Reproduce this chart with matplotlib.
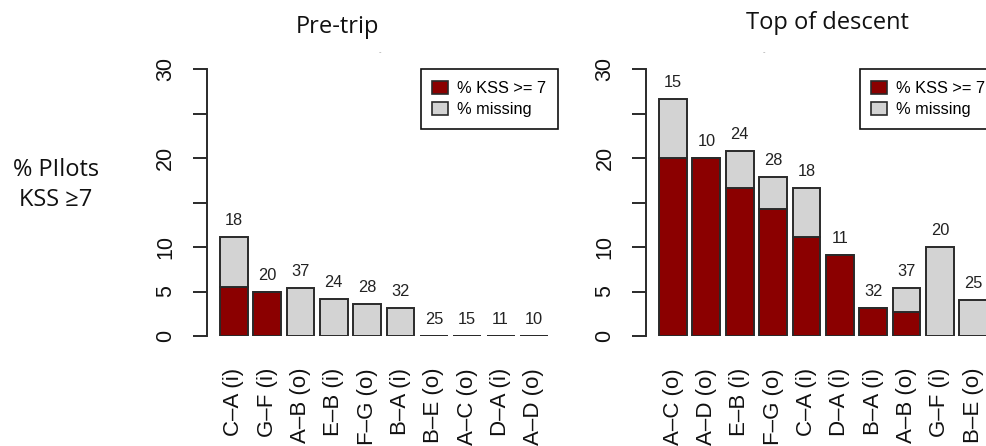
import matplotlib
matplotlib.use("Agg")
import matplotlib.pyplot as plt
from matplotlib.patches import Patch

# ---- data ----
pre_labels = ['C–A (i)', 'G–F (i)', 'A–B (o)', 'E–B (i)', 'F–G (o)',
              'B–A (i)', 'B–E (o)', 'A–C (o)', 'D–A (i)', 'A–D (o)']
pre_n = [18, 20, 37, 24, 28, 32, 25, 15, 11, 10]
pre_kss = [5.56, 5.0, 0, 0, 0, 0, 0, 0, 0, 0]
pre_missing = [5.56, 0, 5.41, 4.17, 3.57, 3.13, 0, 0, 0, 0]

tod_labels = ['A–C (o)', 'A–D (o)', 'E–B (i)', 'F–G (o)', 'C–A (i)',
              'D–A (i)', 'B–A (i)', 'A–B (o)', 'G–F (i)', 'B–E (o)']
tod_n = [15, 10, 24, 28, 18, 11, 32, 37, 20, 25]
tod_kss = [20.0, 20.0, 16.67, 14.29, 11.11, 9.09, 3.13, 2.70, 0, 0]
tod_missing = [6.67, 0, 4.17, 3.57, 5.56, 0, 0, 2.70, 10.0, 4.0]

yticks = [0, 5, 10, 15, 20, 25, 30]
ytick_labels = ['0', '5', '10', '', '20', '', '30']
legend_labels = ['% KSS >= 7', '% missing']

RED = '#8B0000'
GRAY = '#D3D3D3'
EDGE = '#2a2a2a'

W, H = 986, 446
fig = plt.figure(figsize=(W / 100, H / 100), dpi=100)

def px_axes(left, top, width, bottom):
    return fig.add_axes([left / W, 1 - bottom / H, width / W, (bottom - top) / H])

def draw_panel(ax, labels, ns, kss, miss, legend_right):
    x = [0.7 + 1.2 * i for i in range(len(labels))]
    ax.bar(x, kss, width=1.0, color=RED, edgecolor=EDGE, linewidth=1.4)
    ax.bar(x, miss, width=1.0, bottom=kss, color=GRAY, edgecolor=EDGE, linewidth=1.4)
    for xi, k, m, n in zip(x, kss, miss, ns):
        tot = k + m
        ax.annotate(str(n), (xi, tot), xytext=(0, 8.6), textcoords='offset points',
                    ha='center', va='baseline', fontsize=11.8, color='#222222',
                    family='Liberation Sans')
    ax.set_xlim(-0.272, 12.472)
    ax.set_ylim(0, 30)
    for s in ['top', 'right', 'bottom']:
        ax.spines[s].set_visible(False)
    ax.spines['left'].set_bounds(0, 30)
    ax.spines['left'].set_color(EDGE)
    ax.spines['left'].set_linewidth(1.4)
    ax.set_yticks(yticks)
    ax.set_yticklabels(ytick_labels, rotation=90, va='center',
                       fontsize=15.5, family='Liberation Sans', color='#111111')
    ax.tick_params(axis='y', length=10, width=1.4, color=EDGE, pad=12)
    ax.set_xticks(x)
    ax.set_xticklabels(labels, rotation=90, fontsize=16, family='Liberation Sans',
                       color='#111111')
    ax.tick_params(axis='x', length=0, pad=23)
    handles = [Patch(facecolor=RED, edgecolor=EDGE, linewidth=1.2),
               Patch(facecolor=GRAY, edgecolor=EDGE, linewidth=1.2)]
    leg = fig.legend(handles, legend_labels, loc='upper right',
                     bbox_to_anchor=(legend_right / W, 1 - 69 / H),
                     bbox_transform=fig.transFigure, borderaxespad=0,
                     fancybox=False, framealpha=1, edgecolor='#111111',
                     prop={'family': 'Liberation Sans', 'size': 11.8},
                     handlelength=0.95, handleheight=0.9, handletextpad=0.55,
                     labelspacing=0.32, borderpad=0.72)
    leg.get_frame().set_linewidth(1.2)

ax1 = px_axes(206.7, 69.3, 354.3, 336)
draw_panel(ax1, pre_labels, pre_n, pre_kss, pre_missing, 558)

ax2 = px_axes(646, 69.3, 354.3, 336)
draw_panel(ax2, tod_labels, tod_n, tod_kss, tod_missing, 997)

TF = ['Open Sans', 'DejaVu Sans']
fig.text(338 / W, 1 - 33 / H, 'Pre-trip', ha='center', va='baseline',
         fontsize=17, family=TF, color='#111111')
fig.text(827 / W, 1 - 29 / H, 'Top of descent', ha='center', va='baseline',
         fontsize=17, family=TF, color='#111111')
fig.text(56 / W, 1 - 185 / H, '% PIlots\nKSS ≥7', ha='center', va='center',
         multialignment='center', fontsize=17, family=TF, color='#111111',
         linespacing=1.3)
fig.text(380 / W, 1 - 52 / H, '-', ha='center', va='center', fontsize=5, color='#999999')
fig.text(764 / W, 1 - 52 / H, '-', ha='center', va='center', fontsize=5, color='#999999')

fig.savefig('out.png', dpi=100)
